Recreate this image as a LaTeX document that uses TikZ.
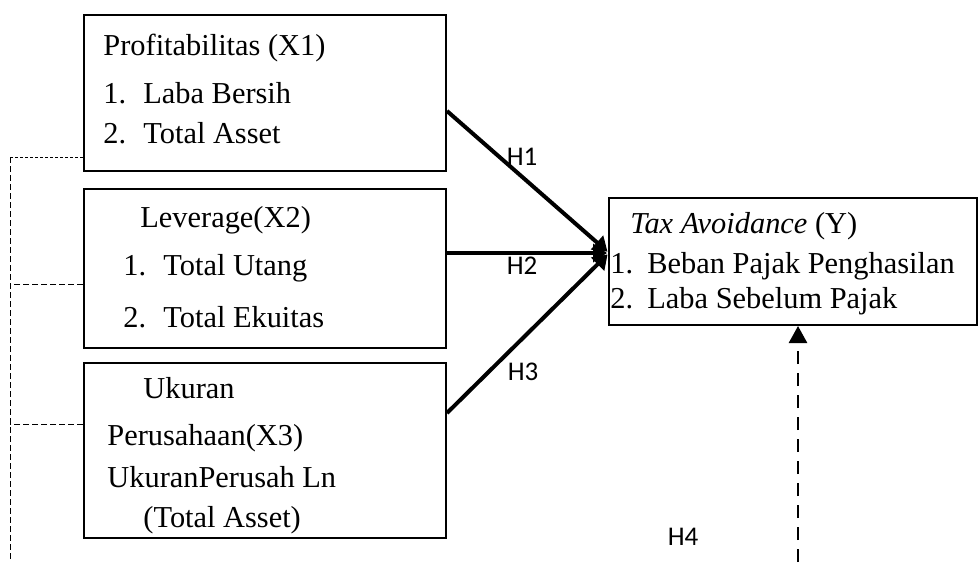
\documentclass[tikz,border=0pt]{standalone}
\usepackage{fontspec}
\setmainfont{Liberation Serif}
\newfontfamily\lblfont{Carlito}
\usetikzlibrary{arrows.meta,positioning,calc}

\newcommand{\itm}[1]{\makebox[20pt][l]{#1}}

\begin{document}
\begin{tikzpicture}[
  x=0.5pt,y=-0.5pt,
  node distance=8pt,
  vbox/.style={draw,line width=1pt,minimum width=181pt,inner sep=0pt},
  txt/.style={anchor=base west,inner sep=0pt,font=\fontsize{15.2}{18}\selectfont},
  hlbl/.style={inner sep=0pt,font=\lblfont\fontsize{13.5}{16}\selectfont},
  harc/.style={-{Triangle[length=7pt,width=9pt]},line width=2pt,shorten >=1pt},
  darc/.style={-{Triangle[length=8.5pt,width=9pt]},line width=1.3pt,dash pattern=on 6.5pt off 4.5pt},
  lnk/.style={line width=0.5pt,dash pattern=on 3pt off 1.5pt},
]
  \useasboundingbox (0,0) rectangle (978,562);

  % variable boxes
  \node[vbox,minimum height=78pt,anchor=north west] (X1) at (83,14) {};
  \node[vbox,minimum height=79.5pt,below=8pt of X1] (X2) {};
  \node[vbox,minimum height=87.5pt,below=6.5pt of X2] (X3) {};
  \node[vbox,minimum width=184pt,minimum height=63.5pt,anchor=north west] (Y) at (608,197) {};

  % box texts
  \node[txt] (x1a) at (103,55) {Profitabilitas (X1)};
  \node[txt] (x1b) at (103,103) {\itm{1.}Laba Bersih};
  \node[txt] (x1c) at (103,143) {\itm{2.}Total Asset};

  \node[txt] (x2a) at (140,227) {Leverage(X2)};
  \node[txt] (x2b) at (123,275) {\itm{1.}Total Utang};
  \node[txt] (x2c) at (123,327) {\itm{2.}Total Ekuitas};

  \node[txt] (x3a) at (143,398) {Ukuran};
  \node[txt] (x3b) at (107,445) {Perusahaan(X3)};
  \node[txt] (x3c) at (107,487) {UkuranPerusah Ln};
  \node[txt] (x3d) at (143,527) {(Total Asset)};

  \node[txt] (ya) at (630,233) {\textit{Tax Avoidance} (Y)};
  \node[txt] (yb) at (610,273) {\makebox[18.5pt][l]{1.}Beban Pajak Penghasilan};
  \node[txt] (yc) at (610,308) {\makebox[18.5pt][l]{2.}Laba Sebelum Pajak};

  % hypothesis arrows
  \coordinate (tip) at (609,253);
  \draw[harc] ([yshift=-9pt]X1.east) -- (tip);
  \draw[harc] (X2.east |- tip) -- (tip);
  \draw[harc] ([yshift=18.75pt]X3.east) -- (tip);
  \node[hlbl] (H1) at (522,157) {H1};
  \node[hlbl] (H2) at (522,266) {H2};
  \node[hlbl] (H3) at (523,372) {H3};
  \node[hlbl] (H4) at (683,537) {H4};

  % simultaneous path
  \coordinate (base) at (798,562);
  \draw[darc] (base) -- (base |- Y.south);

  % left bracket lines
  \coordinate (c1) at (10,157);
  \coordinate (c2) at (10,284);
  \coordinate (c3) at (10,424);
  \coordinate (cb) at (10,562);
  \draw[lnk,dash pattern=on 1.5pt off 1pt] (c1 -| X1.west) -- (c1);
  \draw[lnk] (c1) -- (cb);
  \draw[lnk] (c2 -| X2.west) -- (c2);
  \draw[lnk] (c3 -| X3.west) -- (c3);
\end{tikzpicture}
\end{document}
